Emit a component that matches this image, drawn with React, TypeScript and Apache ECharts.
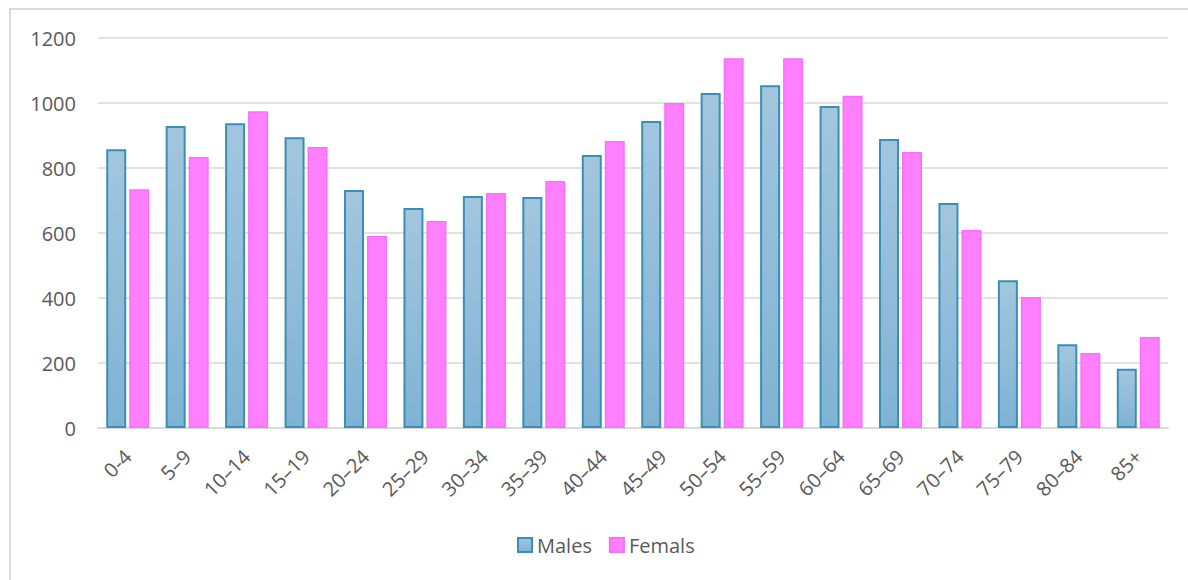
import React, { useEffect, useRef } from "react";
import * as echarts from "echarts";

const categories = ["0-4", "5\u20139", "10\u201314", "15\u201319", "20\u201324", "25\u201329", "30\u201334", "35\u201339", "40\u201344", "45\u201349", "50\u201354", "55\u201359", "60\u201364", "65\u201369", "70\u201374", "75\u201379", "80\u201384", "85+"];
const males = [858, 929, 938, 895, 732, 677, 714, 711, 840, 945, 1031, 1055, 991, 889, 692, 455, 258, 182];
const females = [735, 834, 975, 865, 591, 637, 723, 760, 883, 1000, 1138, 1138, 1022, 849, 609, 403, 231, 280];
const yTicks = { min: 0, max: 1200, interval: 200 };

const FONT = "'Open Sans', 'Noto Sans', sans-serif";
const TEXT = "#595959";

export default function App() {
  const ref = useRef<HTMLDivElement>(null);
  useEffect(() => {
    if (!ref.current) return;
    const chart = echarts.init(ref.current, undefined, { renderer: "svg" });
    chart.setOption({
      animation: false,
      backgroundColor: "#ffffff",
      textStyle: { fontFamily: FONT },
      graphic: [
        {
          type: "polyline",
          shape: { points: [[10, 580], [10, 9], [1188, 9]] },
          style: { stroke: "#d9d9d9", lineWidth: 2, fill: "none" },
          silent: true,
        },
      ],
      grid: { left: 98, right: 20, top: 38, bottom: 152, containLabel: false },
      legend: {
        bottom: 20,
        left: 512,
        icon: "rect",
        itemWidth: 14,
        itemHeight: 14,
        itemGap: 17,
        textStyle: { color: TEXT, fontSize: 20, fontFamily: FONT },
        data: ["Males", "Femals"],
      },
      xAxis: {
        type: "category",
        data: categories,
        axisLine: { lineStyle: { color: "#d9d9d9", width: 2 } },
        axisTick: { show: false },
        axisLabel: { rotate: 45, color: TEXT, fontSize: 20, margin: 25, fontFamily: FONT },
      },
      yAxis: {
        type: "value",
        min: yTicks.min,
        max: yTicks.max,
        interval: yTicks.interval,
        axisLine: { show: false },
        axisTick: { show: false },
        splitLine: { lineStyle: { color: "#d9d9d9", width: 1.5 } },
        axisLabel: {
          color: TEXT,
          fontSize: 20,
          margin: 22,
          fontFamily: FONT,
          formatter: (v: number) => String(v),
        },
      },
      series: [
        {
          name: "Males",
          type: "bar",
          data: males,
          barWidth: 20,
          barGap: "15%",
          itemStyle: {
            color: new echarts.graphic.LinearGradient(0, 0, 0, 1, [
              { offset: 0, color: "#a3c6de" },
              { offset: 1, color: "#7fb3d4" },
            ]),
            borderColor: "#3a8fb7",
            borderWidth: 2,
          },
        },
        {
          name: "Femals",
          type: "bar",
          data: females,
          barWidth: 20,
          itemStyle: {
            color: "#ff80ff",
            borderColor: "#ff6bff",
            borderWidth: 1.5,
          },
        },
      ],
    });
    return () => chart.dispose();
  }, []);
  return (
    <div
      ref={ref}
      style={{ position: "absolute", left: 0, top: 0, width: 1188, height: 580 }}
    />
  );
}
